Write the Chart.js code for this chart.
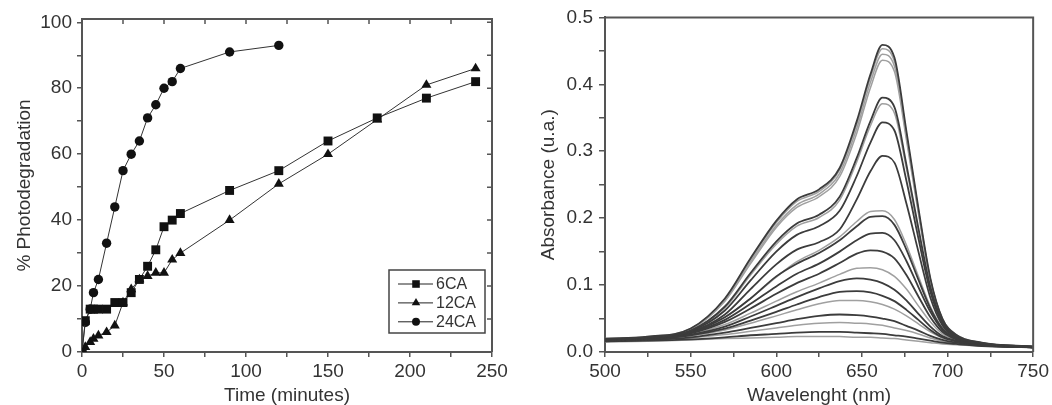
<!DOCTYPE html>
<html>
<head>
<meta charset="utf-8">
<script src="https://cdn.jsdelivr.net/npm/chart.js@4.4.1/dist/chart.umd.min.js"></script>
<style>
  html, body { margin: 0; padding: 0; background: #fff; }
  #wrap { position: relative; width: 1052px; height: 405px; }
  #degChart { position: absolute; left: 0; top: 0; }
  #specChart { position: absolute; left: 520px; top: 0; }
</style>
</head>
<body>
<div id="wrap">
  <canvas id="degChart" width="520" height="405"></canvas>
  <canvas id="specChart" width="532" height="405"></canvas>
</div>
<script>
// --- Left panel data: % photodegradation vs time ---
const timeLong = [0, 2, 5, 7, 10, 15, 20, 25, 30, 35, 40, 45, 50, 55, 60, 90, 120, 150, 180, 210, 240];
const time24 = [0, 2, 5, 7, 10, 15, 20, 25, 30, 35, 40, 45, 50, 55, 60, 90, 120];
const deg6CA  = [0, 9.5, 13, 13, 13, 13, 15, 15, 18, 22, 26, 31, 38, 40, 42, 49, 55, 64, 71, 77, 82];
const deg12CA = [0, 1.5, 3, 4, 5, 6, 8, 15, 19, 22, 23, 24, 24, 28, 30, 40, 51, 60, 70.5, 81, 86];
const deg24CA = [0, 9, 13, 18, 22, 33, 44, 55, 60, 64, 71, 75, 80, 82, 86, 91, 93];
const seriesLabels = ['6CA', '12CA', '24CA'];

// --- Right panel data: absorbance spectra ---
const wavelengths = [500, 525, 550, 570, 585, 600, 612, 625, 637, 647, 655, 662, 669, 676, 683, 690, 697, 705, 720, 750];
const spec01 = [0.020, 0.023, 0.035, 0.080, 0.140, 0.196, 0.228, 0.243, 0.275, 0.345, 0.415, 0.459, 0.440, 0.330, 0.215, 0.110, 0.050, 0.026, 0.014, 0.008];
const spec02 = [0.020, 0.023, 0.035, 0.079, 0.138, 0.193, 0.225, 0.240, 0.272, 0.340, 0.410, 0.453, 0.434, 0.326, 0.212, 0.109, 0.050, 0.026, 0.014, 0.008];
const spec03 = [0.019, 0.022, 0.034, 0.077, 0.135, 0.189, 0.220, 0.236, 0.267, 0.334, 0.403, 0.445, 0.427, 0.322, 0.210, 0.108, 0.049, 0.025, 0.014, 0.008];
const spec04 = [0.019, 0.022, 0.034, 0.076, 0.132, 0.186, 0.216, 0.232, 0.262, 0.327, 0.395, 0.436, 0.419, 0.317, 0.207, 0.107, 0.049, 0.025, 0.013, 0.008];
const spec05 = [0.019, 0.022, 0.032, 0.068, 0.118, 0.165, 0.192, 0.205, 0.232, 0.290, 0.345, 0.380, 0.366, 0.280, 0.185, 0.097, 0.046, 0.024, 0.013, 0.008];
const spec06 = [0.019, 0.022, 0.032, 0.066, 0.115, 0.161, 0.188, 0.201, 0.227, 0.284, 0.338, 0.371, 0.357, 0.274, 0.181, 0.095, 0.045, 0.024, 0.013, 0.008];
const spec07 = [0.018, 0.021, 0.031, 0.062, 0.107, 0.150, 0.175, 0.188, 0.211, 0.263, 0.313, 0.343, 0.331, 0.256, 0.170, 0.090, 0.043, 0.023, 0.013, 0.008];
const spec08 = [0.018, 0.021, 0.030, 0.056, 0.094, 0.131, 0.153, 0.164, 0.183, 0.228, 0.270, 0.293, 0.283, 0.222, 0.150, 0.081, 0.040, 0.022, 0.012, 0.007];
const spec09 = [0.018, 0.021, 0.030, 0.052, 0.080, 0.112, 0.135, 0.152, 0.172, 0.195, 0.210, 0.211, 0.198, 0.160, 0.113, 0.068, 0.036, 0.021, 0.012, 0.007];
const spec10 = [0.018, 0.021, 0.030, 0.052, 0.080, 0.113, 0.132, 0.148, 0.167, 0.188, 0.202, 0.203, 0.190, 0.153, 0.108, 0.065, 0.035, 0.021, 0.012, 0.007];
const spec11 = [0.018, 0.021, 0.029, 0.048, 0.072, 0.098, 0.117, 0.132, 0.150, 0.167, 0.177, 0.178, 0.167, 0.136, 0.097, 0.060, 0.033, 0.020, 0.012, 0.007];
const spec12 = [0.017, 0.020, 0.028, 0.045, 0.065, 0.087, 0.103, 0.117, 0.133, 0.147, 0.152, 0.150, 0.140, 0.115, 0.083, 0.052, 0.030, 0.019, 0.011, 0.007];
const spec13 = [0.017, 0.020, 0.027, 0.041, 0.058, 0.076, 0.090, 0.103, 0.116, 0.125, 0.126, 0.123, 0.113, 0.094, 0.069, 0.045, 0.027, 0.018, 0.011, 0.007];
const spec14 = [0.017, 0.019, 0.026, 0.038, 0.053, 0.069, 0.082, 0.095, 0.106, 0.110, 0.108, 0.103, 0.093, 0.077, 0.057, 0.038, 0.024, 0.017, 0.011, 0.007];
const spec15 = [0.017, 0.019, 0.025, 0.035, 0.047, 0.060, 0.071, 0.082, 0.090, 0.091, 0.089, 0.084, 0.076, 0.063, 0.048, 0.033, 0.022, 0.016, 0.010, 0.007];
const spec16 = [0.016, 0.019, 0.024, 0.033, 0.043, 0.054, 0.063, 0.072, 0.077, 0.077, 0.075, 0.071, 0.064, 0.054, 0.042, 0.030, 0.021, 0.015, 0.010, 0.007];
const spec17 = [0.016, 0.018, 0.022, 0.029, 0.036, 0.043, 0.049, 0.054, 0.056, 0.055, 0.053, 0.050, 0.046, 0.039, 0.032, 0.024, 0.018, 0.014, 0.010, 0.007];
const spec18 = [0.016, 0.018, 0.021, 0.026, 0.031, 0.036, 0.040, 0.043, 0.044, 0.043, 0.042, 0.040, 0.036, 0.032, 0.027, 0.021, 0.016, 0.013, 0.010, 0.007];
const spec19 = [0.016, 0.017, 0.019, 0.022, 0.025, 0.027, 0.029, 0.030, 0.030, 0.029, 0.028, 0.027, 0.025, 0.023, 0.020, 0.017, 0.014, 0.012, 0.009, 0.007];
const spec20 = [0.015, 0.016, 0.018, 0.020, 0.021, 0.022, 0.023, 0.023, 0.023, 0.022, 0.022, 0.021, 0.020, 0.018, 0.016, 0.014, 0.012, 0.011, 0.009, 0.007];

const spectra = [spec01, spec02, spec03, spec04, spec05, spec06, spec07, spec08, spec09, spec10,
                 spec11, spec12, spec13, spec14, spec15, spec16, spec17, spec18, spec19, spec20];
// which curves are drawn dark (the rest light grey)
const darkCurves = [1, 5, 7, 8, 10, 11, 12, 14, 15, 17, 19];

Chart.defaults.font.family = '"Liberation Sans", Arial, sans-serif';
Chart.defaults.color = '#333';
Chart.defaults.animation = false;

const AXIS = '#555';
const TICK_FONT = { size: 19 };
const TITLE_FONT = { size: 19, lineHeight: 1 };

// frame (top + right) and optional inward mirror ticks
const framePlugin = {
    id: 'frame',
    afterDraw(chart, args, opts) {
        const { ctx, chartArea: a, scales } = chart;
        ctx.save();
        ctx.strokeStyle = AXIS;
        ctx.lineWidth = 2;
        ctx.beginPath();
        ctx.moveTo(a.left, a.top);
        ctx.lineTo(a.right, a.top);
        ctx.lineTo(a.right, a.bottom);
        ctx.stroke();
        if (opts.mirror) {
            ctx.lineWidth = 1.5;
            ctx.beginPath();
            scales.x.ticks.forEach(t => {
                const px = scales.x.getPixelForValue(t.value);
                ctx.moveTo(px, a.top);
                ctx.lineTo(px, a.top + 5);
            });
            scales.y.ticks.forEach(t => {
                const py = scales.y.getPixelForValue(t.value);
                ctx.moveTo(a.right, py);
                ctx.lineTo(a.right - 5, py);
            });
            ctx.stroke();
        }
        ctx.restore();
    }
};

// boxed legend in the bottom-right corner of the plot
const boxLegend = {
    id: 'boxLegend',
    afterDraw(chart) {
        const { ctx, chartArea: a } = chart;
        const w = 96, h = 63;
        const x0 = a.right - 7 - w, y0 = a.bottom - 19 - h;
        ctx.save();
        ctx.strokeStyle = '#444';
        ctx.lineWidth = 1.5;
        ctx.strokeRect(x0, y0, w, h);
        ctx.font = '16px "Liberation Sans", Arial, sans-serif';
        ctx.textBaseline = 'middle';
        chart.data.datasets.forEach((ds, i) => {
            const cy = y0 + 14 + i * 18.9;
            ctx.strokeStyle = '#222';
            ctx.lineWidth = 1;
            ctx.beginPath();
            ctx.moveTo(x0 + 9, cy);
            ctx.lineTo(x0 + 44, cy);
            ctx.stroke();
            ctx.fillStyle = '#111';
            Chart.helpers.drawPoint(ctx, { pointStyle: ds.pointStyle, radius: ds.pointRadius * 0.85, rotation: 0, borderWidth: 0 }, x0 + 27, cy);
            ctx.fillStyle = '#333';
            ctx.fillText(ds.label, x0 + 47, cy + 1);
        });
        ctx.restore();
    }
};

function toPoints(xs, ys) {
    return ys.map((y, i) => ({ x: xs[i], y: y }));
}

// --- Left chart ---
new Chart(document.getElementById('degChart'), {
    type: 'line',
    data: {
        datasets: [
            { label: seriesLabels[0], data: toPoints(timeLong, deg6CA), pointStyle: 'rect', pointRadius: 6.3 },
            { label: seriesLabels[1], data: toPoints(timeLong, deg12CA), pointStyle: 'triangle', pointRadius: 5.8 },
            { label: seriesLabels[2], data: toPoints(time24, deg24CA), pointStyle: 'circle', pointRadius: 4.7 }
        ].map(d => Object.assign(d, {
            borderColor: '#333', borderWidth: 1, backgroundColor: '#111',
            pointBackgroundColor: '#111', pointBorderColor: '#111', pointBorderWidth: 0, tension: 0
        }))
    },
    options: {
        responsive: false,
        layout: { padding: { top: 19, right: 28, left: 0, bottom: 0 } },
        plugins: { legend: { display: false }, tooltip: { enabled: false }, frame: { mirror: true } },
        scales: {
            x: {
                type: 'linear', min: 0, max: 250,
                afterFit: s => { s.height = 53; },
                ticks: { stepSize: 25, autoSkip: false, maxRotation: 0, padding: 3, font: TICK_FONT,
                         callback: v => (v % 50 === 0 ? v : '') },
                grid: { drawOnChartArea: false, tickLength: 5, color: AXIS, lineWidth: 1.5 },
                border: { color: AXIS, width: 2 },
                title: { display: true, text: 'Time (minutes)', font: TITLE_FONT, padding: { top: 0, bottom: 0 } }
            },
            y: {
                type: 'linear', min: 0, max: 101,
                afterFit: s => { s.width = 82; },
                afterBuildTicks: s => { s.ticks = [0, 10, 20, 30, 40, 50, 60, 70, 80, 90, 100].map(v => ({ value: v })); },
                ticks: { autoSkip: false, padding: 5, font: TICK_FONT,
                         callback: v => (v % 20 === 0 ? v : '') },
                grid: { drawOnChartArea: false, tickLength: 5, color: AXIS, lineWidth: 1.5 },
                border: { color: AXIS, width: 2 },
                title: { display: true, text: '% Photodegradation', font: TITLE_FONT, padding: { top: 15, bottom: 0 } }
            }
        }
    },
    plugins: [framePlugin, boxLegend]
});

// --- Right chart ---
const specSets = spectra.map((s, i) => {
    const dark = darkCurves.includes(i + 1);
    return {
        label: 'spectrum ' + (i + 1),
        data: toPoints(wavelengths, s),
        borderColor: dark ? '#3c3c3c' : '#a0a0a0',
        borderWidth: dark ? 1.8 : 1.5,
        pointRadius: 0,
        cubicInterpolationMode: 'monotone',
        order: dark ? 0 : 1
    };
});

new Chart(document.getElementById('specChart'), {
    type: 'line',
    data: { datasets: specSets },
    options: {
        responsive: false,
        layout: { padding: { top: 17, right: 17, left: 0, bottom: 0 } },
        plugins: { legend: { display: false }, tooltip: { enabled: false }, frame: { mirror: false } },
        scales: {
            x: {
                type: 'linear', min: 500, max: 750,
                afterFit: s => { s.height = 53; },
                ticks: { stepSize: 25, autoSkip: false, maxRotation: 0, padding: 3, font: TICK_FONT,
                         callback: v => (v % 50 === 0 ? v : '') },
                grid: { drawOnChartArea: false, tickLength: 5, color: AXIS, lineWidth: 1.5 },
                border: { color: AXIS, width: 2 },
                title: { display: true, text: 'Wavelenght (nm)', font: TITLE_FONT, padding: { top: 0, bottom: 0 } }
            },
            y: {
                type: 'linear', min: 0, max: 0.5,
                afterFit: s => { s.width = 85; },
                ticks: { stepSize: 0.05, autoSkip: false, padding: 6, font: TICK_FONT,
                         callback: v => (Math.round(v * 100) % 10 === 0 ? v.toFixed(1) : '') },
                grid: { drawOnChartArea: false, tickLength: 6, color: AXIS, lineWidth: 1.5 },
                border: { color: AXIS, width: 2 },
                title: { display: true, text: 'Absorbance (u.a.)', font: TITLE_FONT, padding: { top: 19, bottom: 0 } }
            }
        }
    },
    plugins: [framePlugin]
});
</script>
</body>
</html>
